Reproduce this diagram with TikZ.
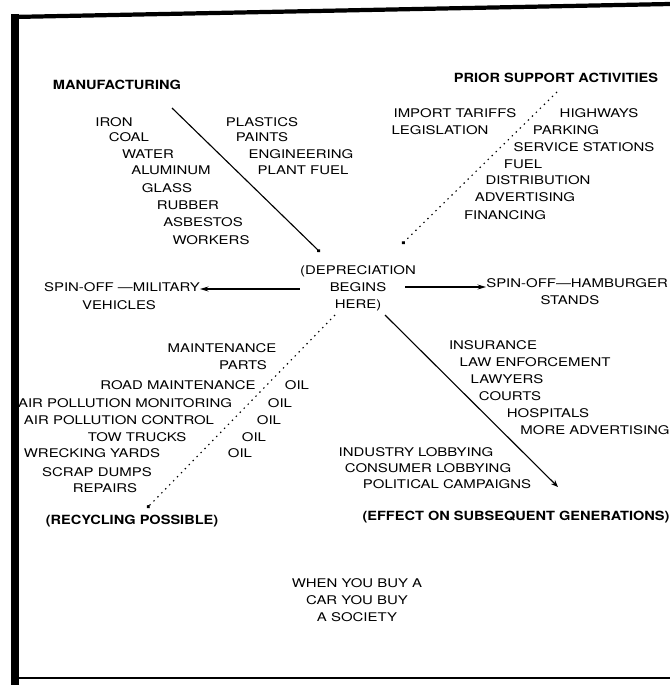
\documentclass[tikz,border=0pt]{standalone}
\usepackage{fontspec}
\usepackage{tikz}
\usetikzlibrary{arrows.meta}
\newfontfamily\diagfont[FakeStretch=1.25]{TeX Gyre Heros}
\newfontfamily\headfont[FakeStretch=1.15]{TeX Gyre Heros}
\tikzset{
    >={Stealth[length=6pt,width=3.5pt]}, % arrowhead of the spin-off arrows
    % plain list entry
    item/.style={font=\diagfont\fontsize{8.5}{12}\selectfont, inner sep=0pt, text=black},
    % bold group titles
    heading/.style={font=\headfont\bfseries\fontsize{9}{11}\selectfont, inner sep=0pt, text=black},
    solidlink/.style={line width=0.8pt, draw=black, -{Circle[length=2.6pt]}},
    dotlink/.style={line width=0.8pt, draw=black, dash pattern=on 1pt off 3pt, -{Circle[length=2.6pt]}},
    effectlink/.style={line width=0.8pt, draw=black, -{Stealth[length=5pt,width=4pt]}},
    spinarrow/.style={line width=0.9pt, draw=black, ->},
    frameline/.style={draw=black, line cap=butt}
}

\begin{document}
\begin{tikzpicture}[x=0.025cm, y=-0.025cm]
    \useasboundingbox (0,0) rectangle (670,685);

    % =========================================================================
    % FRAME
    % =========================================================================
    \draw[frameline, line width=3pt] (12,17) -- (670,4);
    \draw[frameline, line width=5pt] (15,14) -- (15,685);
    \draw[frameline, line width=2pt] (12,678) -- (670,678);

    % =========================================================================
    % CENTRE
    % =========================================================================
    \node[item, align=center] (centre) at (358,288) {(DEPRECIATION\\BEGINS\\HERE)};

    % =========================================================================
    % MANUFACTURING (top left)
    % =========================================================================
    \begin{scope}
        \node[heading] (mfg) at (117,85) {MANUFACTURING};
        \node[item] (iron)   at (114,122) {IRON};
        \node[item] (coal)   at (129,137) {COAL};
        \node[item] (water)  at (148,154) {WATER};
        \node[item] (alu)    at (171,170) {ALUMINUM};
        \node[item] (glass)  at (167,188) {GLASS};
        \node[item] (rubber) at (188,205) {RUBBER};
        \node[item] (asb)    at (203,222) {ASBESTOS};
        \node[item] (workers) at (211,240) {WORKERS};

        \node[item] (plastics) at (262,122) {PLASTICS};
        \node[item] (paints)   at (262,137) {PAINTS};
        \node[item] (engin)    at (301,154) {ENGINEERING};
        \node[item] (plantfuel) at (303,170) {PLANT FUEL};

        \coordinate (mfgstart) at (172,108);
        \coordinate (mfgend) at (320,252);
        \draw[solidlink] (mfgstart) -- (mfgend);
    \end{scope}

    % =========================================================================
    % PRIOR SUPPORT ACTIVITIES (top right)
    % =========================================================================
    \begin{scope}
        \node[heading] (prior) at (556,78) {PRIOR SUPPORT ACTIVITIES};
        \node[item] (tariffs) at (455,113) {IMPORT TARIFFS};
        \node[item] (legis)   at (440,130) {LEGISLATION};
        \node[item] (highways) at (599,113) {HIGHWAYS};
        \node[item] (parking) at (566,130) {PARKING};
        \node[item] (service) at (584,147) {SERVICE STATIONS};
        \node[item] (fuel)    at (523,164) {FUEL};
        \node[item] (distrib) at (538,180) {DISTRIBUTION};
        \node[item] (advert)  at (525,197) {ADVERTISING};
        \node[item] (finance) at (505,215) {FINANCING};

        \coordinate (priorstart) at (557,92);
        \coordinate (priorend) at (402,244);
        \draw[dotlink] (priorstart) -- (priorend);
    \end{scope}

    % =========================================================================
    % SPIN-OFFS (left and right)
    % =========================================================================
    \node[item, anchor=east] (spinmil) at (200,287) {SPIN-OFF \textemdash MILITARY};
    \node[item] (vehicles) at (119,305) {VEHICLES};
    \draw[spinarrow] (centre.west |- 0,289) -- (spinmil.east |- 0,289);

    \node[item, anchor=west] (spinham) at (486,283) {SPIN-OFF\textemdash HAMBURGER};
    \node[item] (stands) at (570,300) {STANDS};
    \draw[spinarrow] (405,287) -- (spinham.west |- 0,287);

    % =========================================================================
    % RECYCLING POSSIBLE (bottom left)
    % =========================================================================
    \begin{scope}
        \node[item] (maint)  at (222,348) {MAINTENANCE};
        \node[item] (parts)  at (243,365) {PARTS};
        \node[item] (road)   at (178,385) {ROAD MAINTENANCE};
        \node[item] (oila)   at (297,385) {OIL};
        \node[item] (monit)  at (125,403) {AIR POLLUTION MONITORING};
        \node[item] (oilb)   at (280,403) {OIL};
        \node[item] (control) at (119,420) {AIR POLLUTION CONTROL};
        \node[item] (oilc)   at (269,420) {OIL};
        \node[item] (tow)    at (137,437) {TOW TRUCKS};
        \node[item] (oild)   at (254,437) {OIL};
        \node[item] (wreck)  at (92,453) {WRECKING YARDS};
        \node[item] (oile)   at (240,453) {OIL};
        \node[item] (scrap)  at (97,472) {SCRAP DUMPS};
        \node[item] (repairs) at (105,488) {REPAIRS};
        \node[heading] (recyc) at (132,521) {(RECYCLING POSSIBLE)};

        \coordinate (recycstart) at (335,315);
        \coordinate (recycend) at (147,508);
        \draw[dotlink] (recycstart) -- (recycend);
    \end{scope}

    % =========================================================================
    % EFFECT ON SUBSEQUENT GENERATIONS (bottom right)
    % =========================================================================
    \begin{scope}
        \node[item] (insur)   at (493,345) {INSURANCE};
        \node[item] (law)     at (535,362) {LAW ENFORCEMENT};
        \node[item] (lawyers) at (507,379) {LAWYERS};
        \node[item] (courts)  at (510,396) {COURTS};
        \node[item] (hosp)    at (548,413) {HOSPITALS};
        \node[item] (moreadv) at (595,430) {MORE ADVERTISING};
        \node[item] (indlob)  at (416,452) {INDUSTRY LOBBYING};
        \node[item] (conlob)  at (428,468) {CONSUMER LOBBYING};
        \node[item] (polit)   at (447,484) {POLITICAL CAMPAIGNS};
        \node[heading] (effect) at (516,517) {(EFFECT ON SUBSEQUENT GENERATIONS)};

        \coordinate (effectstart) at (385,315);
        \coordinate (effectend) at (558,487);
        \draw[effectlink] (effectstart) -- (effectend);
    \end{scope}

    % Closing line
    \node[item, align=center] (society) at (357,600) {WHEN YOU BUY A\\CAR YOU BUY\\A SOCIETY};
\end{tikzpicture}
\end{document}
